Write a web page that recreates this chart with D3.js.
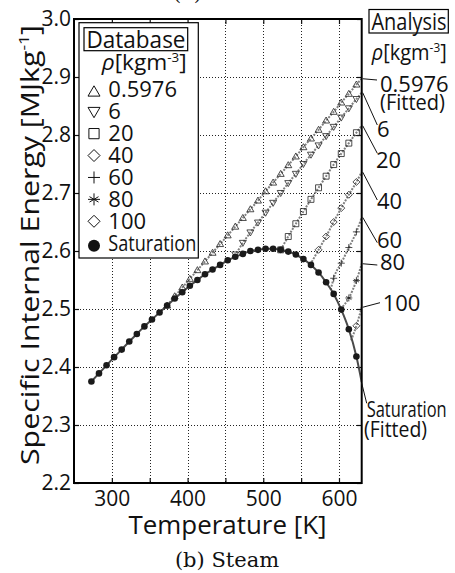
<!DOCTYPE html>
<html>
<head>
<meta charset="utf-8">
<script src="https://cdn.jsdelivr.net/npm/d3@7"></script>
<style>
body { margin: 0; background: #fff; }
text { font-family: "Open Sans", sans-serif; fill: #111; }
</style>
</head>
<body>
<svg width="455" height="573"></svg>
<script>
// ---- data (T in K, u in MJ/kg) ----
var xTicks = [300, 350, 400, 450, 500, 550, 600];
var xLabels = [300, 400, 500, 600];
var yTicks = [2.2, 2.3, 2.4, 2.5, 2.6, 2.7, 2.8, 2.9, 3.0];

var satT = [273, 283, 293, 303, 313, 323, 333, 343, 353, 363, 373, 383, 393, 403, 413, 423, 433, 443,
            453, 463, 473, 483, 493, 503, 513, 523, 533, 543, 553, 563, 573, 583, 593, 603, 613, 623];
var satU = [2.375, 2.389, 2.403, 2.417, 2.430, 2.444, 2.457, 2.470, 2.482, 2.494, 2.506, 2.518, 2.529, 2.540,
            2.550, 2.560, 2.568, 2.576, 2.584, 2.590, 2.595, 2.600, 2.602, 2.604, 2.604, 2.602, 2.599, 2.594,
            2.586, 2.576, 2.563, 2.546, 2.526, 2.499, 2.465, 2.418];
var satFitEnd = [630, 2.374];

var rho05T = [373, 383, 393, 403, 413, 423, 433, 443, 453, 463, 473, 483, 493, 503, 513, 523, 533, 543, 553,
              563, 573, 583, 593, 603, 613, 623];
var rho05U = [2.506, 2.522, 2.537, 2.552, 2.567, 2.582, 2.597, 2.612, 2.627, 2.642, 2.657, 2.672, 2.687,
              2.703, 2.718, 2.733, 2.748, 2.763, 2.779, 2.794, 2.809, 2.825, 2.840, 2.856, 2.871, 2.887];
var rho6T = [463, 473, 483, 493, 503, 513, 523, 533, 543, 553, 563, 573, 583, 593, 603, 613, 623];
var rho6U = [2.594, 2.614, 2.632, 2.649, 2.666, 2.683, 2.700, 2.717, 2.733, 2.750, 2.766, 2.782, 2.798,
             2.814, 2.830, 2.846, 2.862];
var rho20T = [523, 533, 543, 553, 563, 573, 583, 593, 603, 613, 623];
var rho20U = [2.602, 2.625, 2.647, 2.668, 2.689, 2.709, 2.729, 2.749, 2.768, 2.786, 2.804];
var rho40T = [573, 583, 593, 603, 613, 623];
var rho40U = [2.602, 2.625, 2.650, 2.674, 2.697, 2.719];
var rho60T = [593, 603, 613, 623];
var rho60U = [2.553, 2.579, 2.606, 2.633];
var rho80T = [613, 623];
var rho80U = [2.519, 2.549];
var rho100T = [623];
var rho100U = [2.471];

// fitted curve start (on saturation) and end (right edge)
var fitStart = [[373, 2.506], [459, 2.588], [523, 2.602], [564, 2.581], [589, 2.533], [602, 2.500], [616, 2.446]];
var fitEnd = [[630, 2.897], [630, 2.873], [630, 2.816], [630, 2.736], [630, 2.658], [630, 2.578], [630, 2.503]];
var rhoNames = ["0.5976", "6", "20", "40", "60", "80", "100"];
var rhoSyms = ["triUp", "triDown", "square", "diamond", "plus", "star", "diamond"];

var series = [
  [rho05T, rho05U], [rho6T, rho6U], [rho20T, rho20U], [rho40T, rho40U],
  [rho60T, rho60U], [rho80T, rho80U], [rho100T, rho100U]
].map(function(s, i) {
  var pts = s[0].map(function(t, j) { return [t, s[1][j]]; });
  return { name: rhoNames[i], sym: rhoSyms[i], pts: pts,
           fit: [fitStart[i]].concat(pts.filter(function(p) { return p[0] > fitStart[i][0]; }), [fitEnd[i]]) };
});
var satPts = satT.map(function(t, j) { return [t, satU[j]]; });

// ---- layout ----
var svg = d3.select("svg");
var x = d3.scaleLinear().domain([250, 630]).range([74, 361.7]);
var y = d3.scaleLinear().domain([2.2, 3.0]).range([483, 19]);

function symPath(type, s) {
  var h = s * 0.9;
  switch (type) {
    case "triUp": return "M0," + (-s) + "L" + s + "," + h * 0.8 + "L" + (-s) + "," + h * 0.8 + "Z";
    case "triDown": return "M0," + s + "L" + s + "," + (-h * 0.8) + "L" + (-s) + "," + (-h * 0.8) + "Z";
    case "square": return "M" + (-s * 0.85) + "," + (-s * 0.85) + "h" + s * 1.7 + "v" + s * 1.7 + "h" + (-s * 1.7) + "Z";
    case "diamond": return "M0," + (-s) + "L" + s + ",0L0," + s + "L" + (-s) + ",0Z";
    case "plus": return "M" + (-s) + ",0H" + s + "M0," + (-s) + "V" + s;
    case "star":
      var d = s * 0.75;
      return "M0," + (-s) + "V" + s + "M" + (-d) + "," + (-d * 0.6) + "L" + d + "," + (d * 0.6) +
             "M" + (-d) + "," + (d * 0.6) + "L" + d + "," + (-d * 0.6) +
             "M" + (-s) + ",0H" + s;
  }
}

svg.append("defs").append("clipPath").attr("id", "plot")
  .append("rect").attr("x", x(250)).attr("y", y(3.0))
  .attr("width", x(630) - x(250)).attr("height", y(2.2) - y(3.0));

// gridlines
var grid = svg.append("g").attr("stroke", "#222").attr("stroke-width", 1).attr("stroke-dasharray", "1,2");
grid.selectAll("line.v").data(xTicks).enter().append("line")
  .attr("x1", function(d) { return Math.round(x(d)) + 0.5; }).attr("x2", function(d) { return Math.round(x(d)) + 0.5; })
  .attr("y1", y(3.0)).attr("y2", y(2.2));
grid.selectAll("line.h").data(yTicks.slice(1, -1)).enter().append("line")
  .attr("y1", function(d) { return Math.round(y(d)) + 0.5; }).attr("y2", function(d) { return Math.round(y(d)) + 0.5; })
  .attr("x1", x(250)).attr("x2", x(630));

// axes
function styleAxis(g) {
  g.select(".domain").remove();
  g.selectAll(".tick line").attr("stroke", "#111").attr("stroke-width", 1.2);
  g.selectAll(".tick text").style("font-size", "21px").attr("fill", "#111");
}
svg.append("g").attr("transform", "translate(0," + y(2.2) + ")")
  .call(d3.axisBottom(x).tickValues(xTicks).tickSizeInner(-5).tickSizeOuter(0).tickPadding(8)
    .tickFormat(function(d) { return xLabels.indexOf(d) >= 0 ? d : ""; }))
  .call(styleAxis);
svg.append("g").attr("transform", "translate(0," + y(3.0) + ")")
  .call(d3.axisTop(x).tickValues(xTicks).tickSizeInner(-5).tickSizeOuter(0).tickFormat(""))
  .call(styleAxis);
svg.append("g").attr("transform", "translate(" + x(250) + ",0)")
  .call(d3.axisLeft(y).tickValues(yTicks).tickSizeInner(-5).tickSizeOuter(0).tickPadding(3)
    .tickFormat(d3.format(".1f")))
  .call(styleAxis);
svg.append("g").attr("transform", "translate(" + x(630) + ",0)")
  .call(d3.axisRight(y).tickValues(yTicks).tickSizeInner(-5).tickSizeOuter(0).tickFormat(""))
  .call(styleAxis);

// fitted curves
var line = d3.line().x(function(d) { return x(d[0]); }).y(function(d) { return y(d[1]); })
  .curve(d3.curveMonotoneX);
var plot = svg.append("g").attr("clip-path", "url(#plot)");
plot.selectAll("path.fit").data(series).enter().append("path")
  .attr("d", function(d) { return line(d.fit); })
  .attr("fill", "none").attr("stroke", "#808080").attr("stroke-width", 2).attr("stroke-dasharray", "2,1.3");
plot.append("path").attr("d", line(satPts.concat([satFitEnd])))
  .attr("fill", "none").attr("stroke", "#4a4a4a").attr("stroke-width", 2);

// markers
series.forEach(function(s) {
  plot.append("g").selectAll("path").data(s.pts).enter().append("path")
    .attr("transform", function(d) { return "translate(" + x(d[0]) + "," + y(d[1]) + ")"; })
    .attr("d", symPath(s.sym, 3.5))
    .attr("fill", "none").attr("stroke", "#222").attr("stroke-width", 0.8);
});
plot.append("g").selectAll("circle").data(satPts).enter().append("circle")
  .attr("cx", function(d) { return x(d[0]); }).attr("cy", function(d) { return y(d[1]); })
  .attr("r", 3.3).attr("fill", "#1a1a1a");

// frame
svg.append("rect").attr("x", x(250)).attr("y", y(3.0))
  .attr("width", x(630) - x(250)).attr("height", y(2.2) - y(3.0))
  .attr("fill", "none").attr("stroke", "#000").attr("stroke-width", 2);

// axis titles
svg.append("text").attr("x", 227.5).attr("y", 534).attr("text-anchor", "middle")
  .style("font-size", "25px").attr("textLength", 198).attr("lengthAdjust", "spacingAndGlyphs")
  .text("Temperature [K]");
var yl = svg.append("text").attr("transform", "translate(39,245) rotate(-90)").attr("text-anchor", "middle")
  .style("font-size", "26px").attr("textLength", 440).attr("lengthAdjust", "spacingAndGlyphs");
yl.append("tspan").text("Specific Internal Energy [MJkg");
yl.append("tspan").attr("dy", -10).style("font-size", "15px").text("-1");
yl.append("tspan").attr("dy", 10).text("]");

svg.append("text").attr("x", 227).attr("y", 567).attr("text-anchor", "middle")
  .style("font-family", "'DejaVu Serif', serif").style("font-size", "21px").style("font-weight", "normal")
  .text("(b) Steam");
svg.append("text").attr("x", 173).attr("y", 0)
  .style("font-family", "'DejaVu Serif', serif").style("font-size", "21px").text("(a)");

// rho label helper
function rhoLabel(g, px, py, len) {
  var t = g.append("text").attr("x", px).attr("y", py).style("font-size", "22px")
    .attr("textLength", len).attr("lengthAdjust", "spacingAndGlyphs");
  t.append("tspan").style("font-style", "italic").text("\u03C1");
  t.append("tspan").text("[kgm");
  t.append("tspan").attr("dy", -8).style("font-size", "13px").text("-3");
  t.append("tspan").attr("dy", 8).text("]");
}

// legend (Database)
var lg = svg.append("g");
lg.append("rect").attr("x", 79).attr("y", 22.7).attr("width", 119.3).attr("height", 235.3)
  .attr("fill", "#fff").attr("stroke", "#000").attr("stroke-width", 1.2);
lg.append("rect").attr("x", 84).attr("y", 27.7).attr("width", 103.7).attr("height", 23)
  .attr("fill", "none").attr("stroke", "#000").attr("stroke-width", 1.2);
lg.append("text").attr("x", 86.5).attr("y", 48).style("font-size", "23px")
  .attr("textLength", 99).attr("lengthAdjust", "spacingAndGlyphs").text("Database");
rhoLabel(lg, 101.7, 70, 85);

var legendRows = rhoNames.concat(["Saturation"]);
var legendSyms = rhoSyms.concat(["circle"]);
var rowY = d3.scaleLinear().domain([0, 7]).range([97.3, 250.7]);
legendRows.forEach(function(name, i) {
  var cy = rowY(i) - (legendSyms[i] === "triUp" ? 5.5 : legendSyms[i] === "circle" ? 5 : 7.5);
  if (legendSyms[i] === "circle") {
    lg.append("circle").attr("cx", 94).attr("cy", cy).attr("r", 6).attr("fill", "#111");
  } else {
    lg.append("path").attr("transform", "translate(94," + cy + ")").attr("d", symPath(legendSyms[i], 6))
      .attr("fill", "none").attr("stroke", "#111").attr("stroke-width", 1);
  }
  var t = lg.append("text").attr("x", 108.3).attr("y", rowY(i)).style("font-size", "22px").text(name);
  if (name === "Saturation") t.attr("textLength", 88).attr("lengthAdjust", "spacingAndGlyphs");
});

// right-hand annotations (Analysis)
var an = svg.append("g");
an.append("rect").attr("x", 369).attr("y", 9.5).attr("width", 79.3).attr("height", 23.5)
  .attr("fill", "none").attr("stroke", "#000").attr("stroke-width", 1.2);
an.append("text").attr("x", 371.5).attr("y", 30).style("font-size", "23px")
  .attr("textLength", 75).attr("lengthAdjust", "spacingAndGlyphs").text("Analysis");
rhoLabel(an, 371.7, 60, 75);

var labelPos = [[380, 92], [377, 137], [376, 168], [377, 209], [377, 248], [380, 270], [382.7, 311]];
var leaderEnd = [[377, 80], [377.3, 125], [377.3, 153.3], [377.3, 200], [377.3, 242.7], [377.3, 265], [380, 302.7]];
series.forEach(function(s, i) {
  var e = s.fit[s.fit.length - 1];
  an.append("line").attr("x1", x(e[0]) + 1).attr("y1", y(e[1]))
    .attr("x2", leaderEnd[i][0]).attr("y2", leaderEnd[i][1])
    .attr("stroke", "#111").attr("stroke-width", 1);
  an.append("text").attr("x", labelPos[i][0]).attr("y", labelPos[i][1]).style("font-size", "22px").text(s.name);
});
an.append("text").attr("x", 380).attr("y", 110).style("font-size", "22px")
  .attr("textLength", 65).attr("lengthAdjust", "spacingAndGlyphs").text("(Fitted)");
an.append("line").attr("x1", x(satFitEnd[0])).attr("y1", y(satFitEnd[1]) + 1)
  .attr("x2", 366.7).attr("y2", 403.3).attr("stroke", "#111").attr("stroke-width", 1);
an.append("text").attr("x", 366.7).attr("y", 417).style("font-size", "22px")
  .attr("textLength", 80).attr("lengthAdjust", "spacingAndGlyphs").text("Saturation");
an.append("text").attr("x", 364).attr("y", 437).style("font-size", "22px")
  .attr("textLength", 63).attr("lengthAdjust", "spacingAndGlyphs").text("(Fitted)");
</script>
</body>
</html>
